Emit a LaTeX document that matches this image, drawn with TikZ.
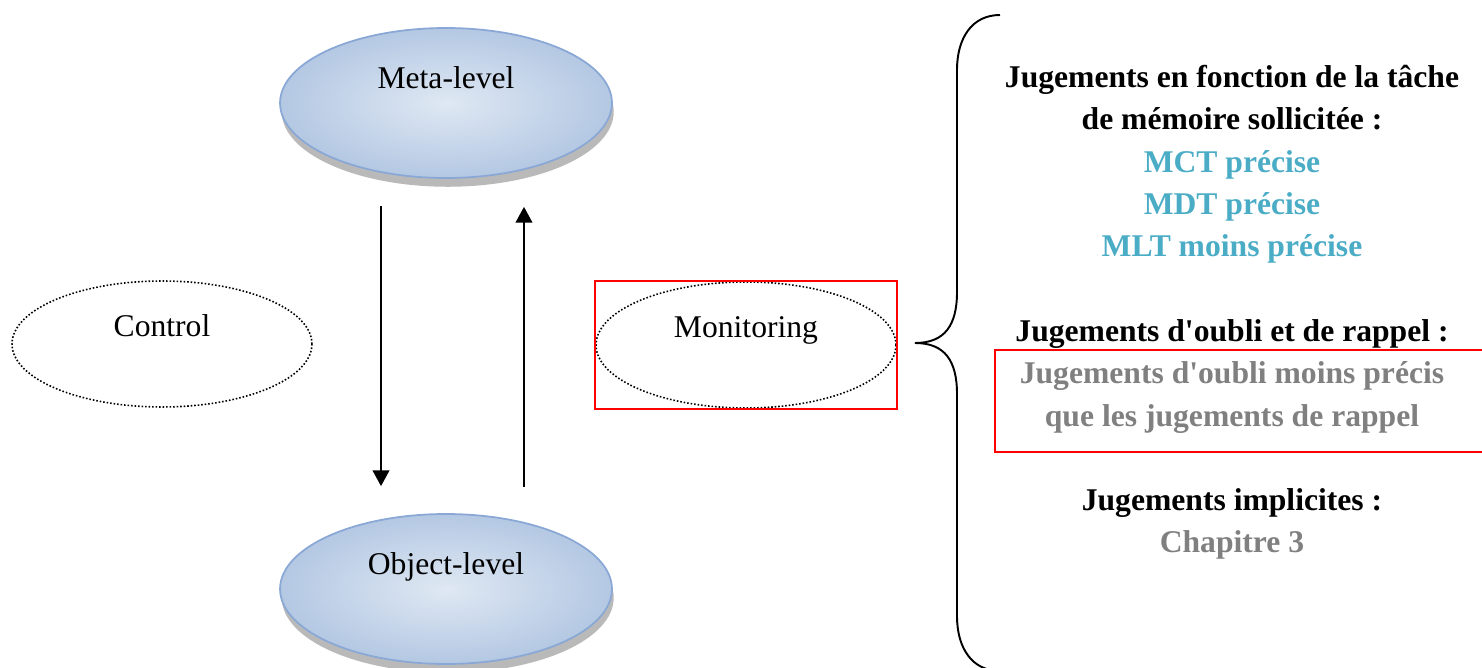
\documentclass[tikz,border=0pt]{standalone}
\usepackage{fontspec}
\setmainfont{Liberation Serif}[Ligatures=TeXOff]
\usetikzlibrary{arrows.meta,shapes.geometric,shadows}

\definecolor{levelfill}{HTML}{DFE8F3}
\definecolor{levelshade}{HTML}{B4C8E3}
\definecolor{leveldraw}{HTML}{8AA8D6}
\definecolor{tealtext}{HTML}{4BACC6}
\definecolor{greytext}{HTML}{808080}

\begin{document}
\begin{tikzpicture}[
    x=0.02cm, y=-0.02cm,
    font=\fontsize{18}{24}\selectfont,
    level/.style={
      ellipse,
      draw=leveldraw,
      line width=1pt,
      inner color=levelfill,
      outer color=levelshade,
      minimum width=6.64cm,
      minimum height=3.0cm,
      text height=12pt,
      text depth=29pt,
      drop shadow={shadow xshift=1pt, shadow yshift=-5pt, fill=gray!55, opacity=1}
    },
    process/.style={
      ellipse,
      draw,
      line width=0.9pt,
      dash pattern=on 0.9pt off 1.1pt,
      minimum width=6.0cm,
      minimum height=2.52cm,
      text height=12pt,
      text depth=20pt
    },
    flow/.style={line width=1.1pt, -{Triangle[width=9.5pt,length=9pt]}},
    redline/.style={draw=red, line width=0.9pt},
    jline/.style={font=\fontsize{18}{24}\selectfont\bfseries, anchor=base, inner sep=0pt}
  ]
    \useasboundingbox (0,0) rectangle (1482,668);

    % levels
    \node[level] (meta) at (446,103) {Meta-level};
    \node[level] (object) at (446,589) {Object-level};

    \draw[flow, shorten <=0.54cm, shorten >=0.54cm] ([xshift=-1.3cm]meta.south) -- ([xshift=-1.3cm]object.north);
    \draw[flow, shorten <=0.52cm, shorten >=0.56cm] ([xshift=1.56cm]object.north) -- ([xshift=1.56cm]meta.south);

    % processes
    \node[process] (control) at (162,344) {Control};
    \node[process] (monitoring) at (746,345) {Monitoring};
    \draw[redline] (monitoring.west |- monitoring.north) rectangle (monitoring.east |- monitoring.south);

    % brace
    \draw[line width=1.1pt] (1000,15) .. controls (972,15) and (957,38) .. (957,70) -- (957,292)
      .. controls (957,325) and (945,343) .. (915,343)
      .. controls (945,343) and (957,361) .. (957,394) -- (957,616)
      .. controls (957,648) and (972,671) .. (1000,671);

    % judgements
    \node[jline] (tacheA) at (1232,88) {Jugements en fonction de la tâche};
    \node[jline] (tacheB) at (1232,130) {de mémoire sollicitée :};
    \node[jline, tealtext] (mct) at (1232,173) {MCT précise};
    \node[jline, tealtext] (mdt) at (1232,215) {MDT précise};
    \node[jline, tealtext] (mlt) at (1232,257) {MLT moins précise};

    \node[jline] (oubli) at (1232,342) {Jugements d'oubli et de rappel :};
    \node[jline, greytext] (oubliA) at (1232,384) {Jugements d'oubli moins précis};
    \node[jline, greytext] (oubliB) at (1232,427) {que les jugements de rappel};
    \draw[redline] (995,350) rectangle (1495,452);

    \node[jline] (implicites) at (1232,511) {Jugements implicites :};
    \node[jline, greytext] (chapitre) at (1232,553) {Chapitre 3};
  \end{tikzpicture}
\end{document}
